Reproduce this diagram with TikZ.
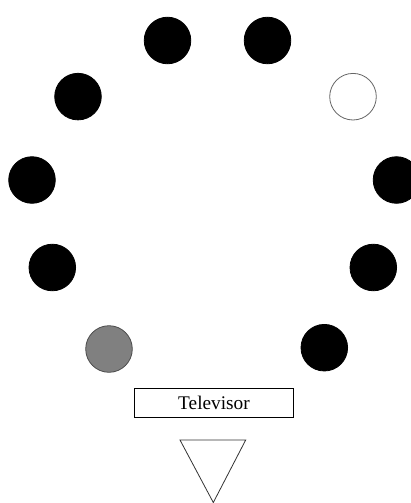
\documentclass[tikz,border=0pt]{standalone}
\usepackage{fontspec}
\setmainfont{Liberation Serif}
\begin{document}
\begin{tikzpicture}[x=1pt,y=-1pt,
  seat/.style={circle,minimum size=46.6pt,inner sep=0pt,line width=0.8pt},
  occupied/.style={seat,fill=black,draw=black},
  empty/.style={seat,fill=white,draw=black!60},
  grayseat/.style={seat,fill=black!50,draw=black!70},
  tvbox/.style={draw=black,line width=0.8pt,minimum width=158.6pt,minimum height=29.4pt,inner sep=0pt,font=\fontsize{19.3}{23}\selectfont},
  viewer/.style={draw=black!80,line width=0.8pt,fill=white}]
\useasboundingbox (0,0) rectangle (411,503);
\node[occupied] (s1) at (167.5,40.5) {};
\node[occupied] (s2) at (267.5,40.5) {};
\node[occupied] (s3) at (78,96.6) {};
\node[empty] (s4) at (353,96.7) {};
\node[occupied] (s5) at (32,180) {};
\node[occupied] (s6) at (396.5,180) {};
\node[occupied] (s7) at (52.3,267.5) {};
\node[occupied] (s8) at (373.3,267.5) {};
\node[grayseat] (s9) at (109,349) {};
\node[occupied] (s10) at (324.3,347.7) {};
\node[tvbox] (tv) at (214,403) {Televisor};
\coordinate (t1) at (180,440);
\coordinate (t2) at (245.7,440);
\coordinate (t3) at (213.3,502.5);
\draw[viewer] (t1) -- (t2) -- (t3) -- cycle;
\end{tikzpicture}
\end{document}
